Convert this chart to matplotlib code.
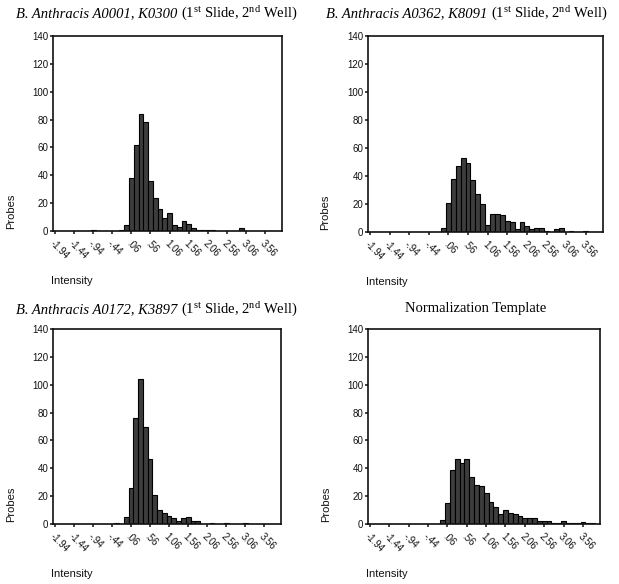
import numpy as np
import matplotlib
matplotlib.use("Agg")
import matplotlib.pyplot as plt

plt.rcParams['font.family'] = ['Liberation Sans', 'DejaVu Sans']
plt.rcParams['mathtext.fontset'] = 'custom'
plt.rcParams['mathtext.rm'] = 'Liberation Serif'
plt.rcParams['mathtext.it'] = 'Liberation Serif:italic'

# bins of width .125, first bin centred on -1.94 (48 bins)
bin_start = -1.94
bin_width = 0.125
tick_labels = ["-1.94", "-1.44", "-.94", "-.44", ".06", ".56",
               "1.06", "1.56", "2.06", "2.56", "3.06", "3.56"]
tick_values = [-1.94, -1.44, -0.94, -0.44, 0.06, 0.56,
               1.06, 1.56, 2.06, 2.56, 3.06, 3.56]

counts_a0001 = [0, 0, 0, 0, 0, 0, 0, 0, 1, 0, 0, 0, 0, 0, 1, 4,
                38, 62, 84, 78, 36, 24, 16, 9, 13, 4, 3, 7, 5, 2, 1, 1,
                1, 1, 0, 0, 0, 0, 0, 2, 0, 0, 0, 0, 0, 0, 0, 0]
counts_a0362 = [0, 0, 0, 0, 0, 0, 0, 0, 0, 0, 0, 0, 0, 0, 0, 3,
                21, 38, 47, 53, 49, 37, 27, 20, 5, 13, 13, 12, 8, 7, 2, 7,
                4, 2, 3, 3, 1, 0, 2, 3, 0, 1, 0, 0, 1, 0, 0, 0]
counts_a0172 = [0, 0, 0, 0, 0, 0, 0, 0, 0, 0, 0, 0, 0, 1, 0, 5,
                26, 76, 104, 70, 47, 21, 10, 8, 6, 4, 2, 4, 5, 2, 2, 0,
                0, 1, 0, 0, 1, 0, 0, 0, 1, 0, 0, 0, 0, 0, 0, 0]
counts_template = [0, 0, 0, 0, 0, 0, 0, 0, 0, 0, 0, 0, 0, 0, 0, 3,
                   15, 39, 47, 44, 47, 34, 28, 27, 22, 16, 12, 7, 10, 8, 7, 6,
                   4, 4, 4, 2, 2, 2, 1, 1, 2, 1, 1, 1, 1.5, 0.5, 1, 0]

# titles: italic strain part + upright part (empty italic part = plain title)
title_italic = ["B. Anthracis A0001, K0300 ", "B. Anthracis A0362, K8091 ",
                "B. Anthracis A0172, K3897 ", ""]
title_plain = [r"(1$^{\mathrm{st}}$ Slide, 2$^{\mathrm{nd}}$ Well)",
               r"(1$^{\mathrm{st}}$ Slide, 2$^{\mathrm{nd}}$ Well)",
               r"(1$^{\mathrm{st}}$ Slide, 2$^{\mathrm{nd}}$ Well)",
               "Normalization Template"]

W, H = 619, 584
fig = plt.figure(figsize=(W / 100, H / 100), dpi=100)

# axes boxes in pixels: left, right, top, bottom
boxes = [(53, 282, 36, 231), (368, 603, 36, 232),
         (53, 281, 329, 524), (368, 600, 329, 524)]
title_pos = [(157, 14), (467, 14), (157, 310), (476, 309)]
all_counts = [counts_a0001, counts_a0362, counts_a0172, counts_template]

centers = bin_start + bin_width * np.arange(len(counts_a0001))

title_parts = []
for i, (box, counts) in enumerate(zip(boxes, all_counts)):
    l, r, t, b = box
    ax = fig.add_axes([l / W, 1 - b / H, (r - l) / W, (b - t) / H])
    ax.bar(centers, counts, width=bin_width, color='#3d3d3d',
           edgecolor='black', linewidth=0.8, zorder=2)
    ax.set_xlim(-1.99, 4.0)
    ax.set_ylim(0, 140)
    ax.set_yticks(range(0, 141, 20))
    ax.set_xticks(tick_values)
    ax.set_xticklabels(tick_labels, rotation=-45, ha='left', va='top',
                       rotation_mode='anchor')
    ax.tick_params(axis='both', labelsize=7, length=2, width=1.1,
                   pad=1.5, colors='#111111')
    ax.tick_params(axis='x', pad=3)
    for sp in ax.spines.values():
        sp.set_linewidth(1.2)
        sp.set_color('#111111')

    ax.set_ylabel('Probes', fontsize=8, color='#111111')
    ax.yaxis.set_label_coords(-0.16, 0.1)
    ax.set_xlabel('Intensity', fontsize=8, color='#111111', ha='left',
                  va='center')
    ax.xaxis.set_label_coords(-0.01, -0.255)

    # title built from two pieces so the strain name is italic
    tx, ty = title_pos[i]
    t_it = fig.text(0, 1 - ty / H, title_italic[i], ha='left', va='center',
                    fontsize=10.5, family='Liberation Serif', style='italic')
    t_rm = fig.text(0, 1 - ty / H, title_plain[i], ha='left', va='center',
                    fontsize=10.5, family='Liberation Serif')
    title_parts.append((tx, t_it, t_rm))

# centre each two-piece title on its column
fig.canvas.draw()
renderer = fig.canvas.get_renderer()
for tx, t_it, t_rm in title_parts:
    w_it = t_it.get_window_extent(renderer).width if t_it.get_text() else 0
    w_rm = t_rm.get_window_extent(renderer).width
    x0 = tx - (w_it + w_rm) / 2
    t_it.set_x(x0 / W)
    t_rm.set_x((x0 + w_it) / W)

plt.savefig('out.png', dpi=100)
plt.close()
